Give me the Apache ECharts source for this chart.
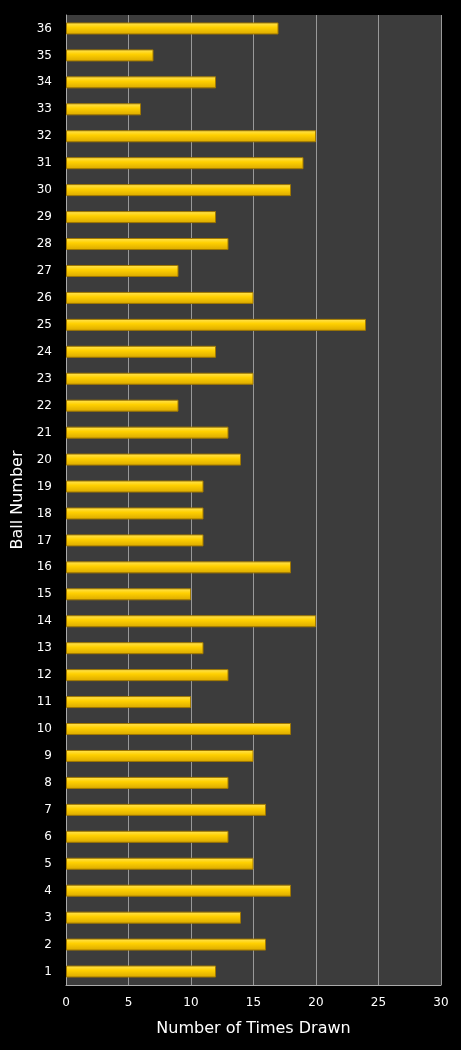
<!DOCTYPE html><html><head><meta charset="utf-8"><script src="https://cdn.jsdelivr.net/npm/echarts@6/dist/echarts.min.js"></script>
<style>html,body{margin:0;background:#000}#c{width:461px;height:1050px}</style></head><body><div id="c"></div><script>
const categories=[];for(let i=1;i<=36;i++)categories.push(String(i));
const values=[12,16,14,18,15,13,16,13,15,18,10,13,11,20,10,18,11,11,11,14,13,9,15,12,24,15,9,13,12,18,19,20,6,12,7,17];
const xTicks=[0,5,10,15,20,25,30];
const ch=echarts.init(document.getElementById('c'));
ch.setOption({backgroundColor:'#000',animation:false,
grid:{left:66,right:20,top:15,bottom:65,backgroundColor:'#3c3c3c',show:true,borderWidth:0},
xAxis:{type:'value',min:0,max:30,interval:5,name:'Number of Times Drawn',nameLocation:'middle',nameGap:36,
nameTextStyle:{color:'#fff',fontSize:16,fontFamily:'DejaVu Sans'},
axisLabel:{color:'#fff',fontSize:12,fontFamily:'DejaVu Sans',margin:12},
axisLine:{show:true,lineStyle:{color:'#aaa'}},axisTick:{show:false},
splitLine:{lineStyle:{color:'#999'}}},
yAxis:{type:'category',data:categories,name:'Ball Number',nameLocation:'middle',nameGap:34,
nameTextStyle:{color:'#fff',fontSize:16,fontFamily:'DejaVu Sans'},
axisLabel:{color:'#fff',fontSize:12,fontFamily:'DejaVu Sans',margin:14},
axisLine:{show:true,lineStyle:{color:'#aaa'}},axisTick:{show:false}},
series:[{type:'bar',data:values,barWidth:12,
itemStyle:{borderColor:'#a07800',borderWidth:1,color:new echarts.graphic.LinearGradient(0,0,0,1,[{offset:0,color:'#ffe55a'},{offset:0.4,color:'#ffd000'},{offset:1,color:'#d9a800'}])}}]
});
</script></body></html>
